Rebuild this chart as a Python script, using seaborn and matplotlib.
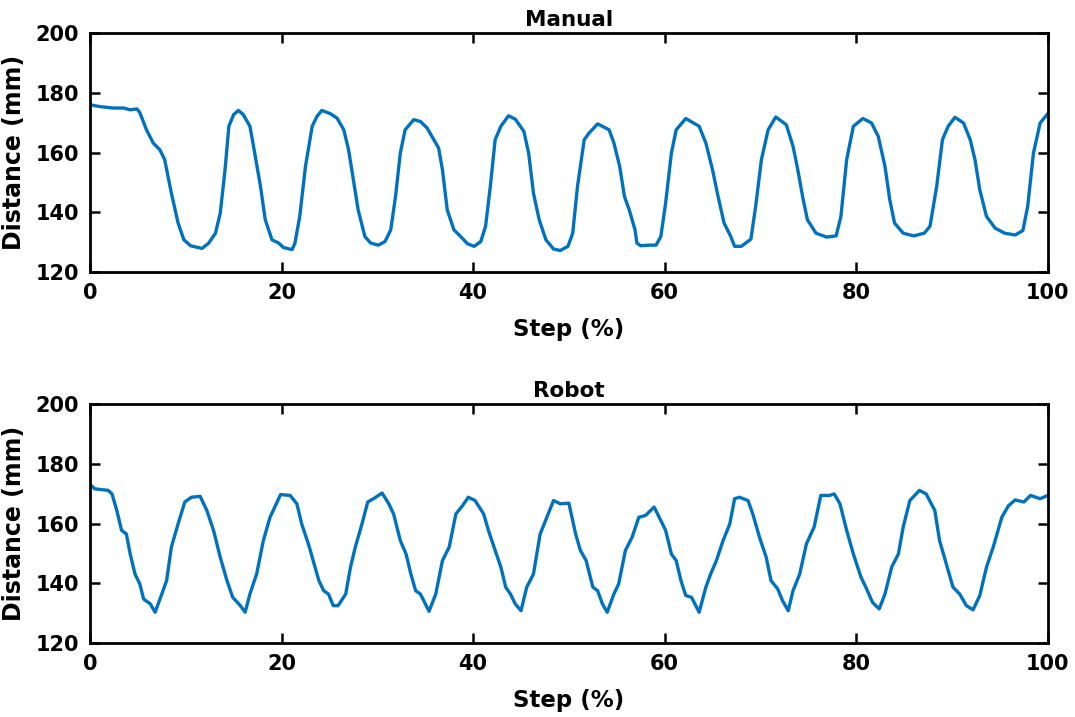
import numpy as np
import pandas as pd
import seaborn as sns
import matplotlib.pyplot as plt

# manual run, distance vs step
manual_step = [0, 1.0, 2.4, 3.5, 4.2, 4.9, 5.2, 5.9, 6.6, 7.3, 7.8, 8.5, 9.2, 9.8, 10.5, 11.7,
               12.4, 13.1, 13.6, 14.1, 14.5, 15.0, 15.5, 16.0, 16.7, 17.2, 17.8, 18.3, 19.0,
               19.7, 20.2, 21.1, 21.4, 21.9, 22.5, 23.2, 23.7, 24.2, 25.1, 25.8, 26.5, 27.0,
               27.5, 28.0, 28.7, 29.3, 30.1, 30.8, 31.4, 31.9, 32.4, 32.9, 33.8, 34.5, 35.2,
               35.9, 36.4, 36.8, 37.3, 38.0, 38.7, 39.4, 40.1, 40.8, 41.3, 41.8, 42.3, 42.9,
               43.7, 44.4, 45.3, 45.8, 46.3, 46.9, 47.6, 48.4, 49.1, 49.9, 50.4, 50.9, 51.6,
               52.1, 53.0, 54.2, 54.7, 55.3, 55.8, 56.3, 56.9, 57.1, 57.5, 58.4, 59.1, 59.6,
               60.1, 60.7, 61.2, 62.2, 63.6, 64.3, 65.0, 65.5, 66.2, 66.9, 67.3, 68.0, 69.0,
               69.5, 70.1, 70.8, 71.6, 72.7, 73.4, 73.9, 74.4, 74.9, 75.8, 76.9, 77.9, 78.4,
               79.0, 79.7, 80.7, 81.6, 82.3, 83.0, 83.5, 84.0, 84.9, 86.0, 87.1, 87.7, 88.4,
               89.0, 89.6, 90.3, 91.2, 91.9, 92.4, 92.9, 93.6, 94.5, 95.5, 96.6, 97.4, 97.9,
               98.5, 99.2, 100.0]
manual_dist = [176.0, 175.4, 174.9, 174.9, 174.3, 174.6, 173.4, 167.6, 163.2, 160.9, 157.6,
               146.4, 136.4, 130.8, 128.8, 127.9, 129.7, 133.0, 139.7, 154.2, 168.8, 172.7,
               174.1, 172.7, 168.8, 159.8, 148.7, 137.5, 130.8, 129.7, 128.2, 127.5, 129.7,
               138.6, 155.4, 168.8, 172.1, 174.1, 173.0, 171.5, 167.6, 160.9, 150.9, 140.8,
               131.9, 129.7, 129.0, 130.2, 134.1, 145.3, 159.8, 167.6, 171.0, 170.4, 168.2,
               164.3, 161.5, 154.2, 140.8, 134.1, 131.9, 129.5, 128.6, 130.2, 135.3, 148.7,
               164.3, 168.8, 172.3, 171.2, 167.1, 159.8, 146.4, 137.5, 130.8, 127.7, 127.2,
               128.6, 133.0, 148.7, 164.3, 166.5, 169.6, 167.6, 163.2, 155.4, 145.3, 140.8,
               134.2, 129.7, 128.8, 129.0, 129.0, 131.9, 143.1, 159.8, 167.6, 171.4, 168.8,
               163.2, 154.2, 146.4, 136.4, 131.9, 128.6, 128.6, 131.0, 142.0, 157.6, 167.6,
               171.9, 169.3, 162.1, 154.2, 145.3, 137.5, 133.0, 131.7, 132.1, 138.6, 157.6,
               168.8, 171.4, 169.9, 165.4, 155.4, 144.2, 136.4, 133.0, 132.1, 133.0, 135.3,
               148.7, 164.3, 168.8, 171.8, 169.9, 164.3, 157.6, 147.5, 138.6, 134.7, 133.0,
               132.4, 133.9, 142.0, 159.8, 169.9, 173.0]

# robot run
robot_step = [0, 0.5, 1.9, 2.3, 2.8, 3.3, 3.8, 4.2, 4.7, 5.2, 5.6, 6.3, 6.8, 7.5, 8.0, 8.5,
              9.2, 9.9, 10.6, 11.5, 12.2, 12.9, 13.6, 14.3, 14.9, 15.7, 16.2, 16.7, 17.4,
              18.1, 18.8, 19.9, 20.9, 21.6, 22.1, 22.8, 23.3, 23.9, 24.4, 24.9, 25.4, 25.9,
              26.7, 27.2, 27.7, 28.4, 29.0, 29.6, 30.5, 31.2, 31.7, 32.4, 33.0, 33.5, 34.0,
              34.5, 35.4, 36.1, 36.8, 37.5, 38.2, 38.9, 39.5, 40.2, 41.1, 41.6, 42.3, 42.9,
              43.4, 43.9, 44.4, 45.0, 45.6, 46.3, 47.0, 47.7, 48.4, 49.1, 50.0, 50.7, 51.2,
              51.8, 52.5, 53.0, 53.5, 54.0, 54.7, 55.2, 55.9, 56.6, 57.3, 58.0, 58.9, 59.6,
              60.1, 60.7, 61.2, 61.7, 62.2, 62.8, 63.6, 64.3, 64.8, 65.4, 66.1, 66.8, 67.3,
              67.8, 68.7, 69.2, 69.9, 70.6, 71.1, 71.8, 72.3, 72.9, 73.4, 74.1, 74.8, 75.6,
              76.3, 77.2, 77.7, 78.3, 79.0, 79.7, 80.5, 81.0, 81.7, 82.4, 83.0, 83.7, 84.4,
              84.9, 85.6, 86.6, 87.3, 88.2, 88.7, 89.4, 90.1, 90.8, 91.5, 92.2, 92.9, 93.6,
              94.3, 95.2, 95.9, 96.6, 97.5, 98.2, 99.2, 100.0]
robot_dist = [173.1, 171.6, 171.1, 169.9, 164.4, 157.7, 156.5, 149.8, 143.1, 139.8, 134.7,
              133.1, 130.3, 136.4, 140.9, 152.1, 159.9, 167.2, 168.8, 169.1, 164.4, 157.7,
              148.7, 140.9, 135.3, 132.5, 130.3, 136.4, 143.1, 154.3, 162.1, 169.7, 169.4,
              166.6, 159.9, 153.2, 147.6, 140.9, 137.5, 136.4, 132.5, 132.5, 136.4, 145.4,
              152.1, 159.9, 167.2, 168.3, 170.2, 166.6, 163.2, 154.3, 149.8, 143.1, 137.5,
              136.4, 130.6, 136.4, 147.6, 152.1, 163.2, 166.0, 168.8, 167.7, 163.2, 157.7,
              151.0, 145.4, 138.7, 136.4, 133.1, 130.8, 138.7, 143.1, 156.5, 162.1, 167.7,
              166.6, 166.8, 156.5, 151.0, 147.6, 138.7, 137.5, 133.1, 130.3, 136.4, 139.8,
              151.0, 155.4, 162.1, 162.7, 165.5, 161.0, 157.7, 149.8, 147.6, 140.9, 135.9,
              135.3, 130.3, 138.7, 143.1, 147.6, 154.3, 159.9, 168.3, 168.8, 167.7, 163.2,
              155.4, 148.7, 140.9, 138.1, 134.2, 130.8, 137.5, 143.1, 153.2, 158.8, 169.4,
              169.4, 169.9, 166.6, 157.7, 149.8, 142.0, 138.7, 133.6, 131.4, 136.4, 145.4,
              149.8, 158.8, 167.7, 171.1, 169.9, 164.4, 154.3, 146.5, 138.7, 136.4, 132.5,
              131.1, 135.9, 145.4, 152.1, 162.1, 166.0, 167.9, 167.2, 169.4, 168.3, 169.4]

panels = ["Manual", "Robot"]
x_ticks = [0, 20, 40, 60, 80, 100]
y_ticks = [120, 140, 160, 180, 200]

sns.set_theme(style="ticks")
plt.rcParams["font.family"] = ["DejaVu Sans"]
plt.rcParams["font.weight"] = "bold"
plt.rcParams["text.color"] = "black"
plt.rcParams["axes.labelcolor"] = "black"
plt.rcParams["xtick.color"] = "black"
plt.rcParams["ytick.color"] = "black"

fig = plt.figure(figsize=(10.75, 7.17), dpi=100)
ax_top = fig.add_axes([0.0837, 0.6206, 0.891, 0.3333])
ax_bot = fig.add_axes([0.0837, 0.1032, 0.891, 0.3333])

data = [(manual_step, manual_dist), (robot_step, robot_dist)]
for ax, name, (xs, ys) in zip([ax_top, ax_bot], panels, data):
    df = pd.DataFrame({"step": xs, "dist": ys})
    sns.lineplot(data=df, x="step", y="dist", ax=ax, color="#0072BD",
                 linewidth=2.4, estimator=None, sort=False)
    ax.set_xlim(0, 100)
    ax.set_ylim(120, 200)
    ax.set_xticks(x_ticks)
    ax.set_yticks(y_ticks)
    ax.tick_params(direction="in", length=7, width=1.8, labelsize=15,
                   top=True, right=True, pad=8, colors="black")
    for lab in ax.get_xticklabels() + ax.get_yticklabels():
        lab.set_fontweight("bold")
    for sp in ax.spines.values():
        sp.set_visible(True)
        sp.set_linewidth(2.0)
        sp.set_color("black")
    ax.set_title(name, fontsize=15.5, fontweight="bold", pad=5, color="black")
    ax.set_xlabel("Step (%)", fontsize=16.5, fontweight="bold", labelpad=11, color="black")
    ax.set_ylabel("Distance (mm)", fontsize=17, fontweight="bold", labelpad=7, color="black")

fig.savefig("out.png", dpi=100)
